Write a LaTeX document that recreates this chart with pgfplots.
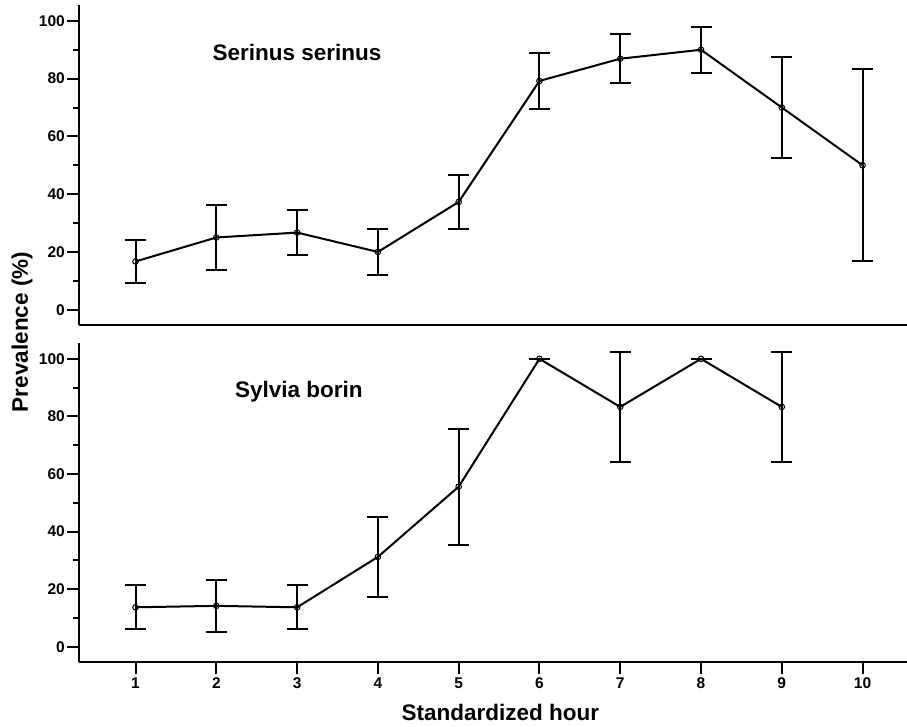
\documentclass[border=0pt]{standalone}
\usepackage{fontspec}
\setmainfont{Liberation Sans}
\usepackage{pgfplots}
\pgfplotsset{compat=1.18}
\pgfplotstableread{
x y e
1 16.7 7.3
2 25.0 11.4
3 26.7 7.7
4 20.0 7.9
5 37.3 9.5
6 79.2 9.8
7 86.9 8.4
8 90.0 7.9
9 70.0 17.5
10 50.0 33.3
}\serinus
\pgfplotstableread{
x y e
1 13.7 7.6
2 14.2 9.0
3 13.7 7.6
4 31.2 13.9
5 55.6 20.2
6 100.0 0
7 83.3 19.2
8 100.0 0
9 83.3 19.2
}\sylvia
\pgfplotsset{
  panel/.style={
    scale only axis, width=828pt,
    xmin=0.3, xmax=10.55, ymin=-5.3, ymax=105.5,
    axis x line*=bottom, axis y line*=left,
    axis line style={line width=2pt, -},
    tick align=outside, major tick length=12pt, minor tick length=6pt,
    tick style={black, line width=2pt},
    ytick={0,20,...,100}, minor y tick num=1,
    /pgf/number format/assume math mode=true,
    ticklabel style={font=\bfseries\fontsize{15.5}{16}\selectfont},
    yticklabel style={inner xsep=2pt},
    clip=false,
  },
  ser/.style={black, line width=2pt, mark=o, mark size=2.8pt,
    mark options={line width=1pt, solid},
    error bars/.cd, y dir=both, y explicit,
    error bar style={line width=2pt},
    error mark options={rotate=90, line width=2pt, mark size=10.5pt, black}},
}
\begin{document}
\begin{tikzpicture}
\path[use as bounding box] (0pt,0pt) rectangle (907pt,726pt);
\begin{axis}[panel, height=320pt, at={(79pt,401pt)}, anchor=south west, xtick=\empty]
\addplot[ser] table[x=x, y=y, y error=e] {\serinus};
\node[anchor=base west, font=\bfseries\fontsize{22.5}{24}\selectfont] at (axis cs:1.91,86.2) {Serinus serinus};
\end{axis}
\begin{axis}[panel, height=319pt, at={(79pt,64pt)}, anchor=south west,
  xtick={1,...,10},
  xlabel={Standardized hour},
  xlabel style={at={(rel axis cs:0.509,0)}, anchor=base, yshift=-58pt, font=\bfseries\fontsize{22.5}{24}\selectfont}]
\addplot[ser] table[x=x, y=y, y error=e] {\sylvia};
\node[anchor=base west, font=\bfseries\fontsize{22.5}{24}\selectfont] at (axis cs:2.19,86.7) {Sylvia borin};
\end{axis}
\node[rotate=90, font=\bfseries\fontsize{22.5}{24}\selectfont] at (22pt,394pt) {Prevalence (\%)};
\end{tikzpicture}
\end{document}
